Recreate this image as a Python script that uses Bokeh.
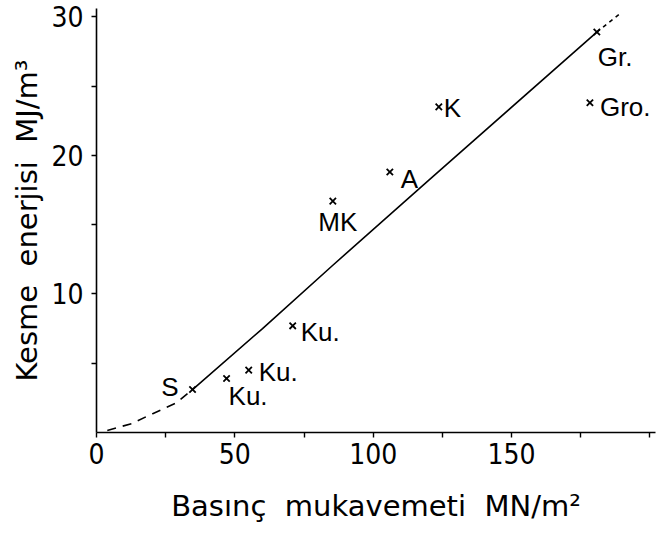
from bokeh.plotting import figure
from bokeh.models import FixedTicker, ColumnDataSource
from bokeh.core.properties import value
from bokeh.embed import file_html
from bokeh.resources import INLINE

# Rock samples: compressive strength (MN/m^2) vs cutting energy (MJ/m^3)
names = ["S", "Ku.", "Ku.", "Ku.", "MK", "A", "K", "Gr.", "Gro."]
strength = [34.7, 47.0, 55.0, 70.9, 85.4, 106.0, 123.7, 180.8, 178.3]
energy = [3.1, 3.9, 4.5, 7.7, 16.7, 18.8, 23.5, 28.9, 23.8]

# Fitted trend: solid part through the data, dashed extrapolations at both ends
trend_x = [34.7, 60.0, 85.0, 120.0, 180.8]
trend_y = [3.1, 7.5, 12.0, 18.2, 28.9]
low_x = [3.9, 12.7, 20.3, 28.9, 34.7]
low_y = [0.15, 0.64, 1.36, 2.14, 3.1]
high_x = [180.8, 189.0]
high_y = [28.9, 30.2]

x_ticks = [0, 25, 50, 75, 100, 125, 150, 175, 200]
x_tick_labels = {0: "0", 50: "50", 100: "100", 150: "150"}
y_ticks = [5, 10, 15, 20, 25, 30]
y_tick_labels = {10: "10", 20: "20", 30: "30"}

# screen-space placement of each sample label relative to its marker
label_dx = [-14, 2, 10, 8, 5, 11, 5, 1, 10]
label_dy = [-3, 18, 2, 6, 21, 7, 1, 25, 4]
label_align = ["right", "left", "left", "left", "center", "left", "left", "left", "left"]

FONT = "Liberation Sans"
NUM_FONT = "'DejaVu Sans Condensed', 'Liberation Sans'"
LABEL_FONT = "DejaVu Sans"
GAP = "\u00a0\u00a0"  # wider word spacing in the axis titles

p = figure(width=659, height=542, x_range=(0, 202), y_range=(0, 30.6),
           output_backend="svg", toolbar_location=None,
           min_border_left=96, min_border_right=4, min_border_top=8,
           min_border_bottom=110)
p.outline_line_color = None
p.grid.visible = False
p.background_fill_color = "white"

p.xaxis.ticker = FixedTicker(ticks=x_ticks)
p.xaxis.major_label_overrides = {t: x_tick_labels.get(t, "") for t in x_ticks}
p.yaxis.ticker = FixedTicker(ticks=y_ticks)
p.yaxis.major_label_overrides = {t: y_tick_labels.get(t, "") for t in y_ticks}

for ax in (p.xaxis, p.yaxis):
    ax.axis_line_width = 1.6
    ax.axis_line_color = "black"
    ax.major_tick_line_color = "black"
    ax.major_tick_line_width = 1.4
    ax.major_tick_out = 5
    ax.major_tick_in = 0
    ax.minor_tick_line_color = None
    ax.major_label_text_font = NUM_FONT
    ax.major_label_text_font_size = "28px"
    ax.major_label_text_color = "black"
    ax.axis_label_text_font = LABEL_FONT
    ax.axis_label_text_font_size = "29px"
    ax.axis_label_text_font_style = "normal"
    ax.axis_label_text_color = "black"

p.xaxis.axis_label = "Basınç" + GAP + "mukavemeti" + GAP + "MN/m²"
p.yaxis.axis_label = "Kesme" + GAP + "enerjisi" + GAP + "MJ/m³"
p.xaxis.major_label_standoff = 5
p.xaxis.axis_label_standoff = 22
p.yaxis.major_label_standoff = 8
p.yaxis.axis_label_standoff = 4
p.yaxis.major_label_orientation = "horizontal"

p.line(trend_x, trend_y, line_color="black", line_width=1.6)
p.line(low_x, low_y, line_color="black", line_width=1.6, line_dash="9 7")
p.line(high_x, high_y, line_color="black", line_width=1.6, line_dash="4 4")

src = ColumnDataSource(dict(x=strength, y=energy, name=names,
                            dx=label_dx, dy=label_dy, align=label_align))
p.scatter("x", "y", source=src, marker="x", size=9, line_width=1.8,
          line_color="black")
p.text("x", "y", text="name", source=src, x_offset="dx", y_offset="dy",
       text_align="align", text_baseline="middle",
       text_font=value(FONT), text_font_size="26px", text_color="black")

open("out.html", "w").write(file_html(p, INLINE))
